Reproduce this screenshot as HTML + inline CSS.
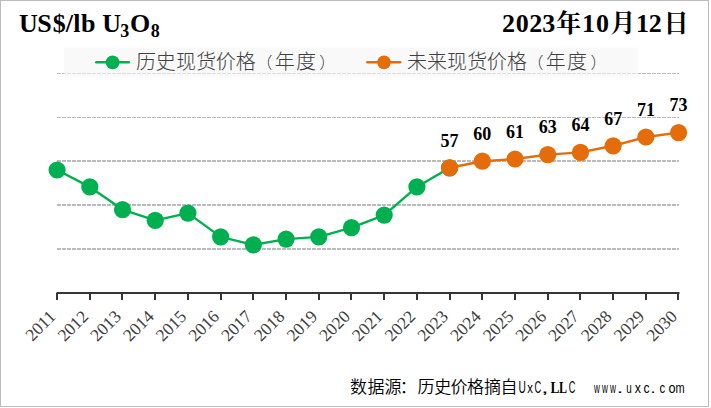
<!DOCTYPE html><html><head><meta charset="utf-8"><title>US$/lb U3O8</title><style>html,body{margin:0;padding:0;background:#fff;overflow:hidden;}svg{display:block;}.ser{font-family:"Liberation Serif","Noto Serif CJK SC",serif;}.sans{font-family:"Liberation Sans","Noto Sans CJK SC",sans-serif;}.cjk{font-family:"Liberation Sans","Noto Sans CJK SC",sans-serif;}</style></head><body><svg width="711" height="408" viewBox="0 0 711 408"><rect x="0" y="0" width="711" height="408" fill="#fff"/><rect x="0.5" y="0.5" width="708" height="406" fill="none" stroke="#bcbcbc" stroke-width="1"/><line x1="57" y1="73.5" x2="679" y2="73.5" stroke="#bababa" stroke-width="1" stroke-dasharray="4 1"/><line x1="57" y1="117.5" x2="679" y2="117.5" stroke="#bababa" stroke-width="1" stroke-dasharray="4 1"/><line x1="57" y1="161" x2="679" y2="161" stroke="#bababa" stroke-width="2" stroke-dasharray="4 1"/><line x1="57" y1="205" x2="679" y2="205" stroke="#bababa" stroke-width="2" stroke-dasharray="4 1"/><line x1="57" y1="249" x2="679" y2="249" stroke="#bababa" stroke-width="2" stroke-dasharray="4 1"/><rect x="64" y="47.7" width="574.4" height="29.4" fill="#f5f5f5" fill-opacity="0.6"/><line x1="57" y1="293" x2="679.5" y2="293" stroke="#363636" stroke-width="2"/><line x1="57" y1="292.6" x2="57" y2="300" stroke="#363636" stroke-width="2"/><line x1="90" y1="292.6" x2="90" y2="300" stroke="#363636" stroke-width="2"/><line x1="122" y1="292.6" x2="122" y2="300" stroke="#363636" stroke-width="2"/><line x1="155" y1="292.6" x2="155" y2="300" stroke="#363636" stroke-width="2"/><line x1="188" y1="292.6" x2="188" y2="300" stroke="#363636" stroke-width="2"/><line x1="221" y1="292.6" x2="221" y2="300" stroke="#363636" stroke-width="2"/><line x1="253" y1="292.6" x2="253" y2="300" stroke="#363636" stroke-width="2"/><line x1="286" y1="292.6" x2="286" y2="300" stroke="#363636" stroke-width="2"/><line x1="319" y1="292.6" x2="319" y2="300" stroke="#363636" stroke-width="2"/><line x1="351" y1="292.6" x2="351" y2="300" stroke="#363636" stroke-width="2"/><line x1="384" y1="292.6" x2="384" y2="300" stroke="#363636" stroke-width="2"/><line x1="417" y1="292.6" x2="417" y2="300" stroke="#363636" stroke-width="2"/><line x1="450" y1="292.6" x2="450" y2="300" stroke="#363636" stroke-width="2"/><line x1="482" y1="292.6" x2="482" y2="300" stroke="#363636" stroke-width="2"/><line x1="515" y1="292.6" x2="515" y2="300" stroke="#363636" stroke-width="2"/><line x1="548" y1="292.6" x2="548" y2="300" stroke="#363636" stroke-width="2"/><line x1="580" y1="292.6" x2="580" y2="300" stroke="#363636" stroke-width="2"/><line x1="613" y1="292.6" x2="613" y2="300" stroke="#363636" stroke-width="2"/><line x1="646" y1="292.6" x2="646" y2="300" stroke="#363636" stroke-width="2"/><line x1="678" y1="292.6" x2="678" y2="300" stroke="#363636" stroke-width="2"/><polyline points="57.10,170.00 89.81,186.94 122.52,209.60 155.23,220.38 187.94,213.12 220.65,236.88 253.36,244.80 286.07,239.08 318.78,236.88 351.49,227.64 384.20,215.10 416.91,186.94 449.62,167.80" fill="none" stroke="#00b050" stroke-width="2.4" stroke-linejoin="round"/><polyline points="449.62,167.80 482.33,161.20 515.04,159.00 547.75,154.60 580.46,152.40 613.17,145.80 645.88,137.00 678.59,132.60" fill="none" stroke="#e46c0a" stroke-width="2.4" stroke-linejoin="round"/><circle cx="57.10" cy="170.00" r="8.6" fill="#00b050"/><circle cx="89.81" cy="186.94" r="8.6" fill="#00b050"/><circle cx="122.52" cy="209.60" r="8.6" fill="#00b050"/><circle cx="155.23" cy="220.38" r="8.6" fill="#00b050"/><circle cx="187.94" cy="213.12" r="8.6" fill="#00b050"/><circle cx="220.65" cy="236.88" r="8.6" fill="#00b050"/><circle cx="253.36" cy="244.80" r="8.6" fill="#00b050"/><circle cx="286.07" cy="239.08" r="8.6" fill="#00b050"/><circle cx="318.78" cy="236.88" r="8.6" fill="#00b050"/><circle cx="351.49" cy="227.64" r="8.6" fill="#00b050"/><circle cx="384.20" cy="215.10" r="8.6" fill="#00b050"/><circle cx="416.91" cy="186.94" r="8.6" fill="#00b050"/><circle cx="449.62" cy="167.80" r="8.6" fill="#00b050"/><circle cx="449.62" cy="167.80" r="8.6" fill="#e46c0a"/><circle cx="482.33" cy="161.20" r="8.6" fill="#e46c0a"/><circle cx="515.04" cy="159.00" r="8.6" fill="#e46c0a"/><circle cx="547.75" cy="154.60" r="8.6" fill="#e46c0a"/><circle cx="580.46" cy="152.40" r="8.6" fill="#e46c0a"/><circle cx="613.17" cy="145.80" r="8.6" fill="#e46c0a"/><circle cx="645.88" cy="137.00" r="8.6" fill="#e46c0a"/><circle cx="678.59" cy="132.60" r="8.6" fill="#e46c0a"/><text class="ser" x="449.62" y="146.60" font-size="18" font-weight="bold" text-anchor="middle" fill="#000">57</text><text class="ser" x="482.33" y="140.00" font-size="18" font-weight="bold" text-anchor="middle" fill="#000">60</text><text class="ser" x="515.04" y="137.80" font-size="18" font-weight="bold" text-anchor="middle" fill="#000">61</text><text class="ser" x="547.75" y="133.40" font-size="18" font-weight="bold" text-anchor="middle" fill="#000">63</text><text class="ser" x="580.46" y="131.20" font-size="18" font-weight="bold" text-anchor="middle" fill="#000">64</text><text class="ser" x="613.17" y="124.60" font-size="18" font-weight="bold" text-anchor="middle" fill="#000">67</text><text class="ser" x="645.88" y="115.80" font-size="18" font-weight="bold" text-anchor="middle" fill="#000">71</text><text class="ser" x="678.59" y="111.40" font-size="18" font-weight="bold" text-anchor="middle" fill="#000">73</text><text class="ser" transform="translate(56.70,317.6) rotate(-45)" font-size="17.5" text-anchor="end" fill="#404040">2011</text><text class="ser" transform="translate(89.41,317.6) rotate(-45)" font-size="17.5" text-anchor="end" fill="#404040">2012</text><text class="ser" transform="translate(122.12,317.6) rotate(-45)" font-size="17.5" text-anchor="end" fill="#404040">2013</text><text class="ser" transform="translate(154.83,317.6) rotate(-45)" font-size="17.5" text-anchor="end" fill="#404040">2014</text><text class="ser" transform="translate(187.54,317.6) rotate(-45)" font-size="17.5" text-anchor="end" fill="#404040">2015</text><text class="ser" transform="translate(220.25,317.6) rotate(-45)" font-size="17.5" text-anchor="end" fill="#404040">2016</text><text class="ser" transform="translate(252.96,317.6) rotate(-45)" font-size="17.5" text-anchor="end" fill="#404040">2017</text><text class="ser" transform="translate(285.67,317.6) rotate(-45)" font-size="17.5" text-anchor="end" fill="#404040">2018</text><text class="ser" transform="translate(318.38,317.6) rotate(-45)" font-size="17.5" text-anchor="end" fill="#404040">2019</text><text class="ser" transform="translate(351.09,317.6) rotate(-45)" font-size="17.5" text-anchor="end" fill="#404040">2020</text><text class="ser" transform="translate(383.80,317.6) rotate(-45)" font-size="17.5" text-anchor="end" fill="#404040">2021</text><text class="ser" transform="translate(416.51,317.6) rotate(-45)" font-size="17.5" text-anchor="end" fill="#404040">2022</text><text class="ser" transform="translate(449.22,317.6) rotate(-45)" font-size="17.5" text-anchor="end" fill="#404040">2023</text><text class="ser" transform="translate(481.93,317.6) rotate(-45)" font-size="17.5" text-anchor="end" fill="#404040">2024</text><text class="ser" transform="translate(514.64,317.6) rotate(-45)" font-size="17.5" text-anchor="end" fill="#404040">2025</text><text class="ser" transform="translate(547.35,317.6) rotate(-45)" font-size="17.5" text-anchor="end" fill="#404040">2026</text><text class="ser" transform="translate(580.06,317.6) rotate(-45)" font-size="17.5" text-anchor="end" fill="#404040">2027</text><text class="ser" transform="translate(612.77,317.6) rotate(-45)" font-size="17.5" text-anchor="end" fill="#404040">2028</text><text class="ser" transform="translate(645.48,317.6) rotate(-45)" font-size="17.5" text-anchor="end" fill="#404040">2029</text><text class="ser" transform="translate(678.19,317.6) rotate(-45)" font-size="17.5" text-anchor="end" fill="#404040">2030</text><line x1="96.3" y1="62.3" x2="128.8" y2="62.3" stroke="#00b050" stroke-width="2.5" stroke-linecap="round"/><circle cx="112.6" cy="62.35" r="6.9" fill="#00b050"/><line x1="367.4" y1="62.3" x2="400.2" y2="62.3" stroke="#e46c0a" stroke-width="2.5" stroke-linecap="round"/><circle cx="384" cy="62.35" r="6.8" fill="#e46c0a"/><text class="cjk" x="136.04" y="69.40" font-size="20" font-weight="300" fill="#404040">历</text><text class="cjk" x="155.85" y="69.40" font-size="20" font-weight="300" fill="#404040">史</text><text class="cjk" x="175.90" y="69.40" font-size="20" font-weight="300" fill="#404040">现</text><text class="cjk" x="196.13" y="69.40" font-size="20" font-weight="300" fill="#404040">货</text><text class="cjk" x="215.81" y="69.40" font-size="20" font-weight="300" fill="#404040">价</text><text class="cjk" x="235.86" y="69.40" font-size="20" font-weight="300" fill="#404040">格</text><text class="cjk" x="256.56" y="67.93" font-size="16" font-weight="300" fill="#404040">（</text><text class="cjk" x="274.78" y="69.40" font-size="20" font-weight="300" fill="#404040">年</text><text class="cjk" x="295.90" y="69.40" font-size="20" font-weight="300" fill="#404040">度</text><text class="cjk" x="319.34" y="67.93" font-size="16" font-weight="300" fill="#404040">）</text><text class="cjk" x="406.93" y="69.40" font-size="20" font-weight="300" fill="#404040">未</text><text class="cjk" x="426.91" y="69.40" font-size="20" font-weight="300" fill="#404040">来</text><text class="cjk" x="446.95" y="69.40" font-size="20" font-weight="300" fill="#404040">现</text><text class="cjk" x="467.18" y="69.40" font-size="20" font-weight="300" fill="#404040">货</text><text class="cjk" x="486.86" y="69.40" font-size="20" font-weight="300" fill="#404040">价</text><text class="cjk" x="506.91" y="69.40" font-size="20" font-weight="300" fill="#404040">格</text><text class="cjk" x="527.61" y="67.93" font-size="16" font-weight="300" fill="#404040">（</text><text class="cjk" x="545.83" y="69.40" font-size="20" font-weight="300" fill="#404040">年</text><text class="cjk" x="566.95" y="69.40" font-size="20" font-weight="300" fill="#404040">度</text><text class="cjk" x="590.39" y="67.93" font-size="16" font-weight="300" fill="#404040">）</text><text class="ser" x="19.01" y="32.00" font-size="26" font-weight="700" fill="#000">U</text><text class="ser" x="37.29" y="32.00" font-size="26" font-weight="700" fill="#000">S</text><text class="ser" x="52.70" y="32.00" font-size="26" font-weight="700" fill="#000">$</text><text class="ser" x="65.78" y="32.00" font-size="26" font-weight="700" fill="#000">/</text><text class="ser" x="73.36" y="32.00" font-size="26" font-weight="700" fill="#000">l</text><text class="ser" x="80.88" y="32.00" font-size="26" font-weight="700" fill="#000">b</text><text class="ser" x="102.26" y="32.00" font-size="26" font-weight="700" fill="#000">U</text><text class="ser" x="120.37" y="36.60" font-size="18" font-weight="700" fill="#000">3</text><text class="ser" x="129.99" y="32.00" font-size="26" font-weight="700" fill="#000">O</text><text class="ser" x="150.75" y="36.60" font-size="18" font-weight="700" fill="#000">8</text><text class="ser" x="501.91" y="32.00" font-size="26" font-weight="700" fill="#000">2</text><text class="ser" x="515.85" y="32.00" font-size="26" font-weight="700" fill="#000">0</text><text class="ser" x="529.21" y="32.00" font-size="26" font-weight="700" fill="#000">2</text><text class="ser" x="542.21" y="32.00" font-size="26" font-weight="700" fill="#000">3</text><text class="ser" x="556.30" y="32.00" font-size="25" font-weight="700" fill="#000">年</text><text class="ser" x="581.98" y="32.00" font-size="26" font-weight="700" fill="#000">1</text><text class="ser" x="595.95" y="32.00" font-size="26" font-weight="700" fill="#000">0</text><text class="ser" x="610.61" y="32.00" font-size="25" font-weight="700" fill="#000">月</text><text class="ser" x="635.98" y="32.00" font-size="26" font-weight="700" fill="#000">1</text><text class="ser" x="648.81" y="32.00" font-size="26" font-weight="700" fill="#000">2</text><text class="ser" x="663.48" y="32.00" font-size="25" font-weight="700" fill="#000">日</text><text class="cjk" x="349.90" y="393.30" font-size="17" font-weight="350" fill="#000">数</text><text class="cjk" x="367.50" y="393.30" font-size="17" font-weight="350" fill="#000">据</text><text class="cjk" x="384.47" y="393.30" font-size="17" font-weight="350" fill="#000">源</text><text class="cjk" x="399.75" y="393.30" font-size="17" font-weight="350" fill="#000">：</text><text class="cjk" x="417.49" y="393.30" font-size="17" font-weight="350" fill="#000">历</text><text class="cjk" x="434.15" y="393.30" font-size="17" font-weight="350" fill="#000">史</text><text class="cjk" x="450.53" y="393.30" font-size="17" font-weight="350" fill="#000">价</text><text class="cjk" x="467.07" y="393.30" font-size="17" font-weight="350" fill="#000">格</text><text class="cjk" x="484.10" y="393.30" font-size="17" font-weight="350" fill="#000">摘</text><text class="cjk" x="500.47" y="393.30" font-size="17" font-weight="350" fill="#000">自</text><text class="sans" transform="translate(522.10,393.00) scale(0.638,1)" x="-5.78" y="0" font-size="16" font-weight="400" fill="#000">U</text><text class="sans" transform="translate(530.00,393.00) scale(0.807,1)" x="-3.50" y="0" font-size="14" font-weight="400" fill="#000">x</text><text class="sans" transform="translate(537.85,393.00) scale(0.582,1)" x="-5.88" y="0" font-size="16" font-weight="400" fill="#000">C</text><text class="sans" transform="translate(544.85,393.00) scale(1.965,1)" x="-1.94" y="0" font-size="14" font-weight="400" fill="#000">,</text><text class="sans" transform="translate(572.10,393.00) scale(0.572,1)" x="-5.88" y="0" font-size="16" font-weight="400" fill="#000">C</text><text class="sans" transform="translate(596.85,393.00) scale(0.580,1)" x="-5.06" y="0" font-size="14" font-weight="400" fill="#000">w</text><text class="sans" transform="translate(604.95,393.00) scale(0.580,1)" x="-5.06" y="0" font-size="14" font-weight="400" fill="#000">w</text><text class="sans" transform="translate(613.00,393.00) scale(0.590,1)" x="-5.06" y="0" font-size="14" font-weight="400" fill="#000">w</text><text class="sans" transform="translate(619.90,393.00) scale(1.650,1)" x="-1.94" y="0" font-size="14" font-weight="400" fill="#000">.</text><text class="sans" transform="translate(629.00,393.00) scale(0.706,1)" x="-3.88" y="0" font-size="14" font-weight="400" fill="#000">u</text><text class="sans" transform="translate(637.95,393.00) scale(0.882,1)" x="-3.50" y="0" font-size="14" font-weight="400" fill="#000">x</text><text class="sans" transform="translate(646.75,393.00) scale(0.878,1)" x="-3.61" y="0" font-size="14" font-weight="400" fill="#000">c</text><text class="sans" transform="translate(653.05,393.00) scale(1.275,1)" x="-1.94" y="0" font-size="14" font-weight="400" fill="#000">.</text><text class="sans" transform="translate(662.35,393.00) scale(0.812,1)" x="-3.61" y="0" font-size="14" font-weight="400" fill="#000">c</text><text class="sans" transform="translate(672.00,393.00) scale(0.908,1)" x="-3.89" y="0" font-size="14" font-weight="400" fill="#000">o</text><text class="sans" transform="translate(679.95,393.00) scale(0.785,1)" x="-5.83" y="0" font-size="14" font-weight="400" fill="#000">m</text><text class="ser" transform="translate(554.75,393.00) scale(0.803,1)" x="-5.33" y="0" font-size="16.6" font-weight="700" fill="#000">L</text><text class="ser" transform="translate(562.85,393.00) scale(0.723,1)" x="-5.33" y="0" font-size="16.6" font-weight="700" fill="#000">L</text></svg></body></html>
